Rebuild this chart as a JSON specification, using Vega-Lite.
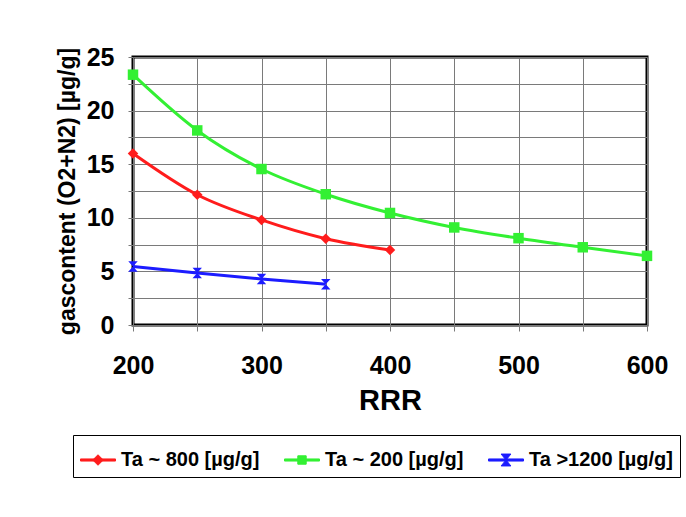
{
  "$schema": "https://vega.github.io/schema/vega-lite/v6.json",
  "autosize": {"type": "none"},
  "width": 514,
  "height": 268,
  "padding": {"left": 133, "top": 57, "right": 39, "bottom": 192},
  "background": "white",
  "config": {
    "font": "Liberation Sans",
    "view": {"stroke": "black", "strokeWidth": 3}
  },
  "data": {
    "values": [
      {"series": "Ta ~ 800 [µg/g]", "RRR": 200, "gas": 16.0},
      {"series": "Ta ~ 800 [µg/g]", "RRR": 250, "gas": 12.15},
      {"series": "Ta ~ 800 [µg/g]", "RRR": 300, "gas": 9.8},
      {"series": "Ta ~ 800 [µg/g]", "RRR": 350, "gas": 8.05},
      {"series": "Ta ~ 800 [µg/g]", "RRR": 400, "gas": 7.0},
      {"series": "Ta ~ 200 [µg/g]", "RRR": 200, "gas": 23.35},
      {"series": "Ta ~ 200 [µg/g]", "RRR": 250, "gas": 18.15},
      {"series": "Ta ~ 200 [µg/g]", "RRR": 300, "gas": 14.55},
      {"series": "Ta ~ 200 [µg/g]", "RRR": 350, "gas": 12.2},
      {"series": "Ta ~ 200 [µg/g]", "RRR": 400, "gas": 10.45},
      {"series": "Ta ~ 200 [µg/g]", "RRR": 450, "gas": 9.1},
      {"series": "Ta ~ 200 [µg/g]", "RRR": 500, "gas": 8.1},
      {"series": "Ta ~ 200 [µg/g]", "RRR": 550, "gas": 7.25},
      {"series": "Ta ~ 200 [µg/g]", "RRR": 600, "gas": 6.45},
      {"series": "Ta >1200 [µg/g]", "RRR": 200, "gas": 5.45},
      {"series": "Ta >1200 [µg/g]", "RRR": 250, "gas": 4.85},
      {"series": "Ta >1200 [µg/g]", "RRR": 300, "gas": 4.3},
      {"series": "Ta >1200 [µg/g]", "RRR": 350, "gas": 3.8}
    ]
  },
  "encoding": {
    "x": {
      "field": "RRR", "type": "quantitative",
      "scale": {"domain": [200, 600], "nice": false, "zero": false},
      "axis": {
        "title": "RRR",
        "values": [200, 250, 300, 350, 400, 450, 500, 550, 600],
        "labelExpr": "datum.value % 100 == 0 ? datum.label : ''",
        "grid": true, "gridColor": "#7a7a7a", "gridWidth": 1, "gridOpacity": 1,
        "domain": false,
        "ticks": true, "tickColor": "#7a7a7a", "tickSize": 6, "tickWidth": 1,
        "labelFontSize": 25, "labelFontWeight": "bold", "labelColor": "black", "labelPadding": 22,
        "labelFlush": false,
        "titleFontSize": 29, "titleFontWeight": "bold", "titleColor": "black", "titlePadding": 8
      }
    },
    "y": {
      "field": "gas", "type": "quantitative",
      "scale": {"domain": [0, 25], "nice": false},
      "axis": {
        "title": "gascontent (O2+N2)  [µg/g]",
        "values": [0, 2.5, 5, 7.5, 10, 12.5, 15, 17.5, 20, 22.5, 25],
        "labelExpr": "datum.value % 5 == 0 ? datum.label : ''",
        "grid": true, "gridColor": "#7a7a7a", "gridWidth": 1, "gridOpacity": 1,
        "domain": false,
        "ticks": true, "tickColor": "#7a7a7a", "tickSize": 5, "tickWidth": 1,
        "labelFontSize": 25, "labelFontWeight": "bold", "labelColor": "black", "labelPadding": 14,
        "labelFlush": false,
        "titleFontSize": 23, "titleFontWeight": "bold", "titleColor": "black", "titlePadding": 7
      }
    }
  },
  "layer": [
    {
      "mark": {"type": "line", "interpolate": "monotone", "strokeWidth": 3},
      "encoding": {
        "color": {
          "field": "series", "type": "nominal",
          "scale": {
            "domain": ["Ta ~ 800 [µg/g]", "Ta ~ 200 [µg/g]", "Ta >1200 [µg/g]"],
            "range": ["#ff1c1c", "#33f033", "#1c1cff"]
          },
          "legend": {
            "title": null,
            "orient": "none", "legendX": -60, "legendY": 378,
            "direction": "horizontal",
            "strokeColor": "black", "padding": 7, "fillColor": "white",
            "symbolSize": 1225, "symbolStrokeWidth": 1, "symbolOpacity": 1,
            "symbolFillColor": {"expr": "scale('color', datum.value)"},
            "symbolType": {"expr": "datum.index == 0 ? 'M-1,-0.06L1,-0.06L1,0.06L-1,0.06Z M0,-0.3L0.3,0L0,0.3L-0.3,0Z' : datum.index == 1 ? 'M-1,-0.06L1,-0.06L1,0.06L-1,0.06Z M-0.24,-0.24L0.24,-0.24L0.24,0.24L-0.24,0.24Z' : 'M-1,-0.06L1,-0.06L1,0.06L-1,0.06Z M-0.28,-0.34L0.28,-0.34L0,0Z M0,0L0.28,0.34L-0.28,0.34Z'"},
            "labelFontSize": 20, "labelFontWeight": "bold", "labelColor": "black",
            "labelOffset": 5, "columnPadding": 22
          }
        }
      }
    },
    {
      "mark": {"type": "point", "filled": true, "opacity": 1, "size": 110},
      "encoding": {
        "fill": {
          "field": "series", "type": "nominal",
          "scale": {
            "domain": ["Ta ~ 800 [µg/g]", "Ta ~ 200 [µg/g]", "Ta >1200 [µg/g]"],
            "range": ["#ff1c1c", "#33f033", "#1c1cff"]
          },
          "legend": null
        },
        "shape": {
          "field": "series", "type": "nominal",
          "scale": {
            "domain": ["Ta ~ 200 [µg/g]", "Ta ~ 800 [µg/g]", "Ta >1200 [µg/g]"],
            "range": ["square", "diamond", "M-0.9,-1L0.9,-1L0,0Z M0,0L0.9,1L-0.9,1Z"]
          },
          "legend": null
        }
      }
    }
  ]
}
